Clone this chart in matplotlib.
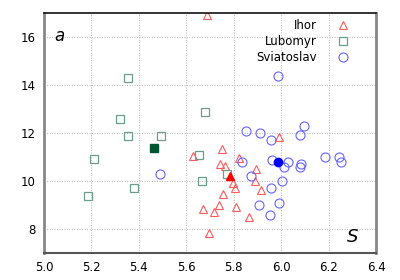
import matplotlib
matplotlib.use("Agg")
import matplotlib.pyplot as plt

ihor_x = [5.689, 5.627, 5.751, 5.822, 5.742, 5.765, 5.894, 5.889, 5.799, 5.807,
          5.913, 5.754, 5.740, 5.672, 5.718, 5.811, 5.866, 5.697, 5.992]
ihor_y = [16.9, 11.04, 11.33, 10.95, 10.71, 10.63, 10.51, 10.01, 9.90, 9.69,
          9.63, 9.44, 9.02, 8.82, 8.72, 8.92, 8.51, 7.83, 11.83]
ihor_mean = (5.786, 10.22)

lub_x = [5.186, 5.210, 5.320, 5.356, 5.356, 5.380, 5.494, 5.655, 5.668, 5.679, 5.773]
lub_y = [9.39, 10.93, 12.58, 14.28, 11.89, 9.70, 11.89, 11.10, 10.00, 12.89, 10.29]
lub_mean = (5.463, 11.39)

svi_x = [5.986, 5.852, 5.911, 5.957, 6.097, 6.081, 5.962, 6.031, 6.014, 6.083, 6.080,
         6.187, 6.246, 6.254, 6.005, 5.957, 5.991, 5.907, 5.955, 5.872, 5.834, 5.488]
svi_y = [14.38, 12.10, 11.99, 11.72, 12.29, 11.90, 10.88, 10.80, 10.60, 10.71, 10.57,
         11.00, 11.00, 10.79, 10.00, 9.69, 9.10, 9.00, 8.58, 10.21, 10.79, 10.30]
svi_mean = (5.988, 10.79)

xticks = [5.0, 5.2, 5.4, 5.6, 5.8, 6.0, 6.2, 6.4]
yticks = [8, 10, 12, 14, 16]

fig = plt.figure(figsize=(4, 2.8), dpi=100)
ax = fig.add_axes([0.11, 0.0964, 0.83, 0.857])

ax.plot(ihor_x, ihor_y, linestyle='none', marker='^', markersize=6,
        markerfacecolor='none', markeredgecolor='#ff5a5a', markeredgewidth=0.8, label='Ihor')
ax.plot(lub_x, lub_y, linestyle='none', marker='s', markersize=5.5,
        markerfacecolor='none', markeredgecolor='#6a9f8c', markeredgewidth=0.9, label='Lubomyr')
ax.plot(svi_x, svi_y, linestyle='none', marker='o', markersize=6.5,
        markerfacecolor='none', markeredgecolor='#6464ff', markeredgewidth=0.8, label='Sviatoslav')

ax.plot([ihor_mean[0]], [ihor_mean[1]], linestyle='none', marker='^', markersize=5.5,
        color='#ff0000')
ax.plot([lub_mean[0]], [lub_mean[1]], linestyle='none', marker='s', markersize=5.5,
        color='#005533')
ax.plot([svi_mean[0]], [svi_mean[1]], linestyle='none', marker='o', markersize=6,
        color='#0000ff')

ax.set_xlim(5.0, 6.4)
ax.set_ylim(7, 17)
ax.set_xticks(xticks)
ax.set_yticks(yticks)
ax.set_xticklabels([f"{v:.1f}" for v in xticks], fontsize=8.5)
ax.set_yticklabels([str(v) for v in yticks], fontsize=8.5)
ax.tick_params(length=0, pad=6)
ax.grid(True, color='#b0b0b0', linestyle=(0, (1.2, 1.8)), linewidth=0.6)
ax.set_axisbelow(True)

ax.spines['left'].set_color('#888888')
ax.spines['left'].set_linewidth(2)
ax.spines['right'].set_color('#888888')
ax.spines['right'].set_linewidth(2)
ax.spines['bottom'].set_color('#555555')
ax.spines['bottom'].set_linewidth(1.5)
ax.spines['top'].set_color('#111111')
ax.spines['top'].set_linewidth(1.2)

ax.text(0.03, 0.905, 'a', transform=ax.transAxes, fontsize=12, style='italic',
        ha='left', va='center')
ax.text(0.93, 0.065, 'S', transform=ax.transAxes, fontsize=13, style='italic',
        ha='center', va='center')

leg = ax.legend(loc='upper right', bbox_to_anchor=(0.952, 1.008), markerfirst=False,
                frameon=False, fontsize=8.5, handletextpad=1.5, labelspacing=0.25,
                borderaxespad=0.3, handlelength=1.5)
for t in leg.get_texts():
    t.set_ha('right')
leg._legend_box.align = "right"

fig.savefig('out.png', dpi=100)
